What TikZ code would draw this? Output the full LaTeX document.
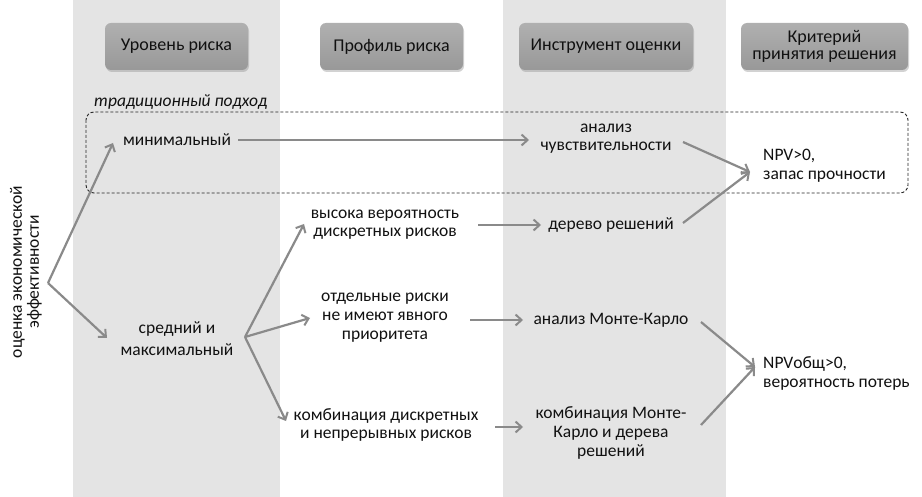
\documentclass[tikz,border=0pt]{standalone}
\usepackage{fontspec}
\setmainfont{Carlito}
\usetikzlibrary{arrows.meta,shadows,positioning}
\definecolor{colgray}{HTML}{E4E4E4}
\definecolor{arrgray}{HTML}{8A8A8A}
\definecolor{txt}{HTML}{111111}
\definecolor{hdrtop}{HTML}{B0B0B0}
\definecolor{hdrbot}{HTML}{989898}
\tikzset{
  lbl/.style={text=txt, font=\fontsize{17.5}{20}\selectfont, align=center, inner sep=1pt},
  lbll/.style={text=txt, font=\fontsize{17.5}{20}\selectfont, align=left, inner sep=1pt},
  hdr/.style={rounded corners=6pt, top color=hdrtop, bottom color=hdrbot, draw=none,
     drop shadow={shadow xshift=1pt, shadow yshift=-2pt, opacity=0.35},
     text=txt, font=\fontsize{18}{19}\selectfont, align=center, inner sep=0pt},
  conn/.style={draw=arrgray, line width=2.2pt, -{Straight Barb[length=6pt,width=11pt,line width=2pt]}},
}
\begin{document}
\begin{tikzpicture}[x=1pt,y=-1pt]
\useasboundingbox (0,0) rectangle (922,497);
\fill[white] (0,0) rectangle (922,497);
% columns
\fill[colgray] (73,0) rectangle (280,497);
\fill[colgray] (503,0) rectangle (726,497);
% headers
\node[hdr, minimum width=143pt, minimum height=47pt] (h1) at (176.5,46.5) {Уровень риска};
\node[hdr, minimum width=143pt, minimum height=47pt] (h2) at (391.5,46.5) {Профиль риска};
\node[hdr, minimum width=174pt, minimum height=47pt] (h3) at (606,46.5) {Инструмент оценки};
\node[hdr, minimum width=167pt, minimum height=47pt] (h4) at (824.5,46.5) {Критерий\\[-2pt]принятия решения};
% dashed box
\draw[black!85, dash pattern=on 3pt off 2pt, line width=0.9pt, rounded corners=8pt] (86,112) rectangle (908,193);
\node[lbl, font=\fontsize{17.5}{20}\selectfont\itshape, anchor=west] (trad) at (93,102) {традиционный подход};
% nodes
\node[lbl] (min) at (177,140) {минимальный};
\node[lbl] (sr) at (177,339) {средний и\\[2pt]максимальный};
\node[lbl, rotate=90] (ocen) at (26,272) {оценка экономической\\[-3pt]эффективности};
\coordinate (apex) at (48,283);
\node[lbl] (vys) at (385,225) {высока вероятность\\[-2pt]дискретных рисков};
\node[lbl] (otd) at (385,318) {отдельные риски\\[-1pt]не имеют явного\\[-1pt]приоритета};
\node[lbl] (kdr) at (386,425) {комбинация дискретных\\[-2pt]и непрерывных рисков};
\node[lbl] (anch) at (606,139) {анализ\\[-2pt]чувствительности};
\node[lbl] (der) at (611,225) {дерево решений};
\node[lbl] (amk) at (611,320) {анализ Монте-Карло};
\node[lbl] (kmk) at (611,433) {комбинация Монте-\\[-1pt]Карло и дерева\\[-1pt]решений};
\node[lbll, anchor=west] (npv1) at (762,166) {NPV>0,\\[-1pt]запас прочности};
\node[lbll, anchor=west] (npv2) at (762,373) {NPVобщ>0,\\[-1pt]вероятность потерь};
% connectors
\draw[conn] (apex) -- (113,143);
\draw[conn] (apex) -- (107,338);
\coordinate (srr) at (245,337);
\draw[conn] (srr) -- (304,224);
\draw[conn] (srr) -- (310,318);
\draw[conn] (srr) -- (286,421);
\draw[conn] (min.east) ++(6,0) -- (529,140);
\draw[conn] (478,225) -- (541,225);
\draw[conn] (470,320) -- (523,320);
\draw[conn] (495,427) -- (523,427);
\coordinate (n1) at (750,172);
\coordinate (n2) at (755,367);
\draw[conn] (683,142) -- (n1);
\draw[conn] (683,223) -- (n1);
\draw[conn] (701,322) -- (n2);
\draw[conn] (701,425) -- (n2);
\end{tikzpicture}
\end{document}
